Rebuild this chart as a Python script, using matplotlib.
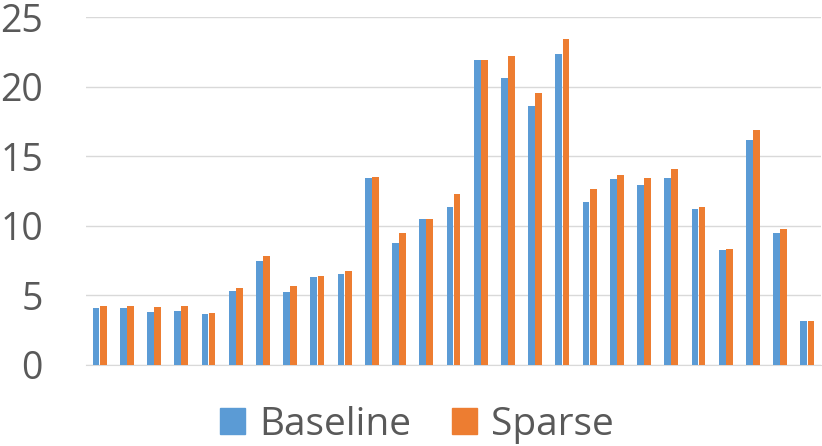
import matplotlib
matplotlib.use("Agg")
import matplotlib.pyplot as plt
import numpy as np
from matplotlib.patches import Patch

plt.rcParams['font.family'] = ['Open Sans', 'DejaVu Sans']

# values, 27 groups
baseline = [4.05, 4.05, 3.76, 3.84, 3.62, 5.28, 7.46, 5.23, 6.31, 6.52,
            13.45, 8.75, 10.46, 11.34, 21.92, 20.62, 18.61, 22.33, 11.7, 13.36,
            12.95, 13.43, 11.2, 8.23, 16.16, 9.5, 3.12]
sparse = [4.24, 4.2, 4.15, 4.2, 3.69, 5.52, 7.82, 5.66, 6.38, 6.76,
          13.5, 9.47, 10.46, 12.28, 21.92, 22.16, 19.52, 23.41, 12.64, 13.65,
          13.43, 14.08, 11.32, 8.35, 16.86, 9.76, 3.12]
labels = ['Baseline', 'Sparse']
colors = ['#5B9BD5', '#ED7D31']
yticks = [0, 5, 10, 15, 20, 25]

fig = plt.figure(figsize=(8.22, 4.46), dpi=100)
ax = fig.add_axes([86/822, 81.3/446, 735/822, 347.7/446])

x = np.arange(len(baseline))
w = 0.25
ax.bar(x - 0.13, baseline, w, color=colors[0], zorder=3)
ax.bar(x + 0.13, sparse, w, color=colors[1], zorder=3)

ax.set_xlim(-0.5, len(baseline) - 0.5)
ax.set_ylim(0, 25)
ax.set_yticks(yticks)
ax.set_xticks([])
ax.grid(axis='y', color='#d9d9d9', linewidth=1, zorder=0)
ax.set_axisbelow(True)
for s in ['top', 'right', 'left']:
    ax.spines[s].set_visible(False)
ax.spines['bottom'].set_color('#d9d9d9')
ax.tick_params(axis='y', length=0, pad=31, labelsize=27, labelcolor='#595959')

handles = [Patch(color=c, label=l) for c, l in zip(colors, labels)]
fig.legend(handles=handles, loc='center', bbox_to_anchor=(0.507, 0.047), ncol=2,
           frameon=False, fontsize=28, labelcolor='#595959',
           handlelength=0.65, handleheight=0.65, handletextpad=0.35,
           columnspacing=1.05, borderaxespad=0, borderpad=0)

fig.savefig('out.png', dpi=100)
